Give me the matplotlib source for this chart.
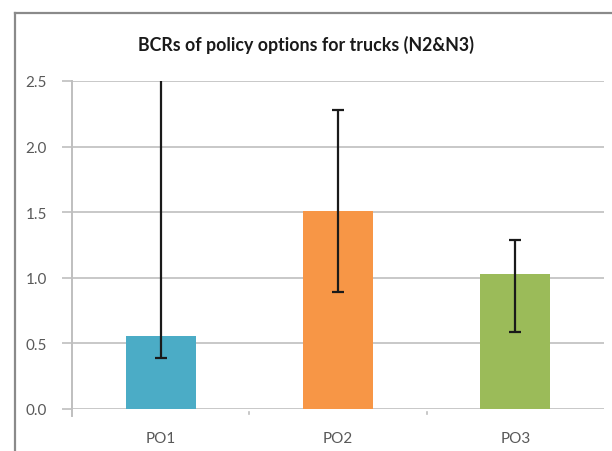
import matplotlib
matplotlib.use("Agg")
from matplotlib import pyplot as plt
from matplotlib.lines import Line2D

# values
categories = ["PO1", "PO2", "PO3"]
bcr = [0.56, 1.51, 1.03]
bcr_low = [0.39, 0.89, 0.59]
bcr_high = [3.2, 2.28, 1.29]
colors = ["#4BACC6", "#F79646", "#9BBB59"]
y_ticks = [0.0, 0.5, 1.0, 1.5, 2.0, 2.5]

plt.rcParams['font.family'] = ['Lato', 'DejaVu Sans']

fig = plt.figure(figsize=(6.12, 4.52), dpi=100)
W, H = 612, 452
# axes box in pixels: left 72, right 604, top 82, bottom 410
ax = fig.add_axes([72 / W, 1 - 410 / H, (604 - 72) / W, (410 - 82) / H])

x = list(range(len(categories)))
ax.bar(x, bcr, width=0.395, color=colors, zorder=2)

err_lo = [v - lo for v, lo in zip(bcr, bcr_low)]
err_hi = [hi - v for v, hi in zip(bcr, bcr_high)]
ax.errorbar(x, bcr, yerr=[err_lo, err_hi], fmt="none", ecolor="#1a1a1a",
            elinewidth=1.6, capsize=4, capthick=1.6, zorder=3)

ax.set_xlim(-0.5, 2.5)
ax.set_ylim(0, 2.5)
ax.set_yticks(y_ticks)
ax.set_yticklabels(["%.1f" % t for t in y_ticks])
ax.set_xticks(x)
ax.set_xticklabels(categories)

ax.grid(axis="y", color="#BFBFBF", linewidth=1.2, zorder=0)
ax.tick_params(axis="y", length=7, color="#BFBFBF", width=1.2,
               labelsize=11, labelcolor="#595959", pad=11)
ax.tick_params(axis="x", length=0, labelsize=11, labelcolor="#595959", pad=16)

# category boundary ticks below the axis
for b in [0.5, 1.5]:
    ax.plot([b, b], [-0.02, -0.04], color="#BFBFBF", linewidth=1.2,
            clip_on=False, zorder=1)

for side in ["top", "right", "bottom"]:
    ax.spines[side].set_visible(False)
ax.spines["left"].set_color("#BFBFBF")
ax.spines["left"].set_linewidth(1.4)
ax.spines["left"].set_bounds(-0.05, 2.5)

ax.set_title("BCRs of policy options for trucks (N2&N3)", fontsize=12.8,
             fontweight="bold", color="#1a1a1a", pad=22, x=0.44)

# outer chart frame, cut off at right and bottom
fig.add_artist(Line2D([15 / W, 1.0], [1 - 14 / H, 1 - 14 / H],
                      transform=fig.transFigure, color="#8a8a8a", linewidth=1.6))
fig.add_artist(Line2D([15 / W, 15 / W], [0.0, 1 - 14 / H],
                      transform=fig.transFigure, color="#8a8a8a", linewidth=1.6))

fig.savefig("out.png", dpi=100)
